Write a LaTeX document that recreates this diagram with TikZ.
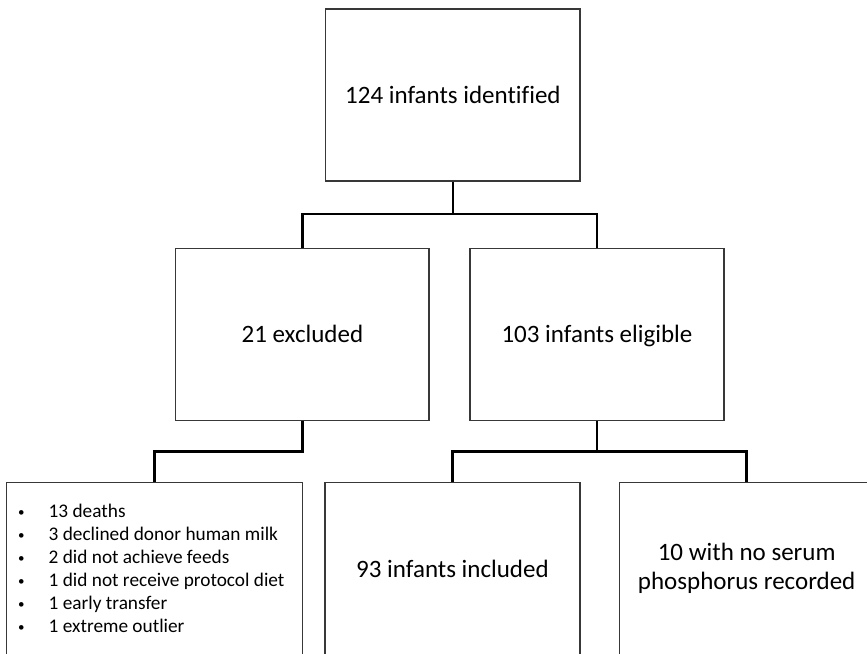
\documentclass[tikz,border=0pt]{standalone}
\usepackage{fontspec}
\setmainfont[Ligatures=NoCommon]{Carlito}
\newcommand{\smbul}{\raisebox{1pt}{\fontsize{13}{13}\selectfont\textbullet}}
\begin{document}
\begin{tikzpicture}[x=1pt,y=-1pt,
  box/.style={draw=black!78, line width=1.3pt, fill=white, rectangle, inner sep=0pt, minimum height=172pt, align=center, font=\fontsize{25}{29}\selectfont},
  one/.style={text height=18pt, text depth=1.5pt},
  conn/.style={draw=black, line width=2.6pt, line join=miter},
  listtext/.style={inner sep=0pt, align=left, font=\fontsize{19.3}{23}\selectfont}]
\useasboundingbox (0,0) rectangle (867,653);
\clip (0,0) rectangle (867,653);
\fill[white] (0,0) rectangle (867,653);
% nodes
\node[box, one, minimum width=254.3pt] (top) at (452.9,95) {124 infants identified};
\node[box, one, minimum width=253.3pt] (excl) at (302.4,334.3) {21 excluded};
\node[box, one, minimum width=254pt] (elig) at (597,334.3) {103 infants eligible};
\node[box, minimum width=296pt] (reasons) at (154.7,568.8) {};
\node[box, one, minimum width=255pt] (incl) at (452.5,568.8) {93 infants included};
\node[box, minimum width=254.8pt, text depth=5pt] (noser) at (746.7,568.8) {10 with no serum\\phosphorus recorded};
\node[listtext, anchor=west] (list) at (18,570.5) {%
\begin{tabular}{@{}l@{\hspace{24pt}}l@{}}
\smbul & 13 deaths\\
\smbul & 3 declined donor human milk\\
\smbul & 2 did not achieve feeds\\
\smbul & 1 did not receive protocol diet\\
\smbul & 1 early transfer\\
\smbul & 1 extreme outlier
\end{tabular}};
% connectors
\coordinate (j1) at (452.9,214);
\coordinate (j2) at (302.4,451.7);
\coordinate (j3) at (597,451.7);
\draw[conn] (top.south) -- (j1);
\draw[conn] (j1) -| (excl.north);
\draw[conn] (j1) -| (elig.north);
\draw[conn] (excl.south) -- (j2) -| (reasons.north);
\draw[conn] (elig.south) -- (j3);
\draw[conn] (j3) -| (incl.north);
\draw[conn] (j3) -| (noser.north);
\end{tikzpicture}
\end{document}
